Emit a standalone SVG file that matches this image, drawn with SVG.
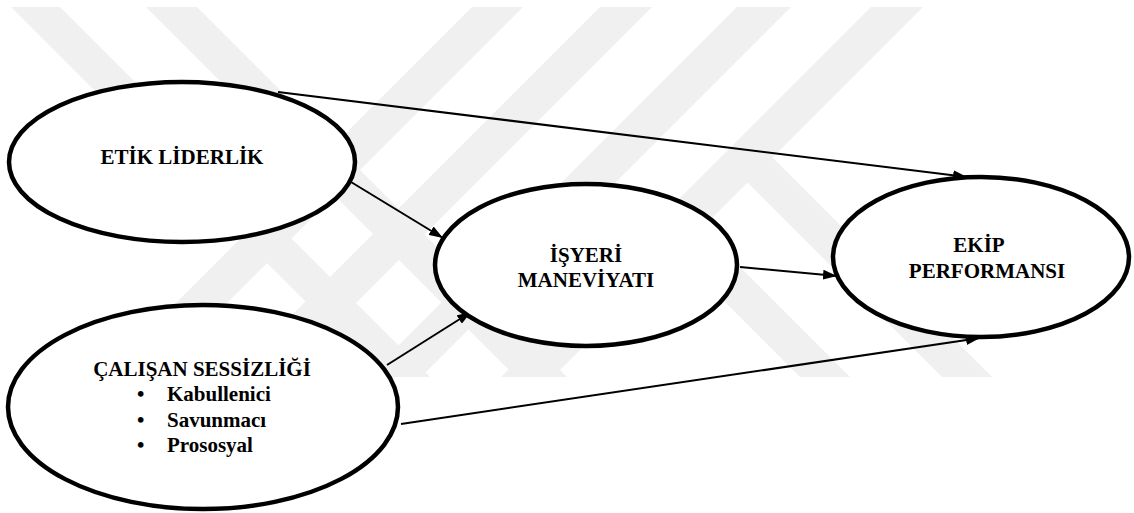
<svg xmlns="http://www.w3.org/2000/svg" width="1134" height="513" viewBox="0 0 1134 513">
  <defs>
    <marker id="head" viewBox="0 0 14 10" markerWidth="14" markerHeight="10" refX="14" refY="5" orient="auto" markerUnits="userSpaceOnUse">
      <path d="M0,0 L14,5 L0,10 z" fill="#000"/>
    </marker>
    <style>
      .node ellipse { fill: #fff; stroke: #000; stroke-width: 4.5; }
      .node text { font-weight: bold; font-size: 21px; fill: #000; }
      .mid { text-anchor: middle; }
      .edge { stroke: #000; stroke-width: 2; fill: none; marker-end: url(#head); }
      .band { fill: #f0f0f0; }
    </style>
  </defs>

  <rect width="1134" height="513" fill="#fff"/>

  <!-- background stripes -->
  <g id="backdrop">
    <polygon class="band" points="11,7 60,7 430,377 381,377"/>
    <polygon class="band" points="146,7 197,7 567,377 516,377"/>
    <polygon class="band" points="472,7 523,7 153,377 102,377"/>
    <polygon class="band" points="600,7 652,7 282,377 230,377"/>
    <polygon class="band" points="737,7 791,7 421,377 367,377"/>
    <polygon class="band" points="871,7 923,7 553,377 501,377"/>
    <polygon class="band" points="651.5,228.5 701.5,228.5 850,377 800,377"/>
    <polygon class="band" points="722.5,157.5 772.5,157.5 992,377 942,377"/>
  </g>

  <!-- connectors -->
  <g id="connectors">
    <line class="edge" x1="278" y1="92" x2="967" y2="177"/>
    <line class="edge" x1="351" y1="182" x2="443" y2="238"/>
    <line class="edge" x1="387" y1="365" x2="471" y2="312"/>
    <line class="edge" x1="740" y1="267" x2="837" y2="276"/>
    <line class="edge" x1="401" y1="424" x2="980" y2="338"/>
  </g>

  <g id="etik-liderlik" class="node" font-family="'Liberation Serif', 'Times New Roman', serif">
    <ellipse cx="182" cy="162" rx="173" ry="80"/>
    <text class="mid" x="182" y="164">ETİK LİDERLİK</text>
  </g>

  <g id="calisan-sessizligi" class="node" font-family="'Liberation Serif', 'Times New Roman', serif">
    <ellipse cx="203" cy="407" rx="195" ry="102"/>
    <text class="mid" x="202" y="376">ÇALIŞAN SESSİZLİĞİ</text>
    <text x="137" y="401">•</text>
    <text x="167" y="401">Kabullenici</text>
    <text x="137" y="427">•</text>
    <text x="167" y="427">Savunmacı</text>
    <text x="137" y="452">•</text>
    <text x="167" y="452">Prososyal</text>
  </g>

  <g id="isyeri-maneviyati" class="node" font-family="'Liberation Serif', 'Times New Roman', serif">
    <ellipse cx="586" cy="265" rx="151" ry="81"/>
    <text class="mid" x="586" y="262">İŞYERİ</text>
    <text class="mid" x="586" y="287">MANEVİYATI</text>
  </g>

  <g id="ekip-performansi" class="node" font-family="'Liberation Serif', 'Times New Roman', serif">
    <ellipse cx="981" cy="257" rx="148" ry="80"/>
    <text class="mid" x="979" y="252">EKİP</text>
    <text class="mid" x="987" y="278">PERFORMANSI</text>
  </g>
</svg>
